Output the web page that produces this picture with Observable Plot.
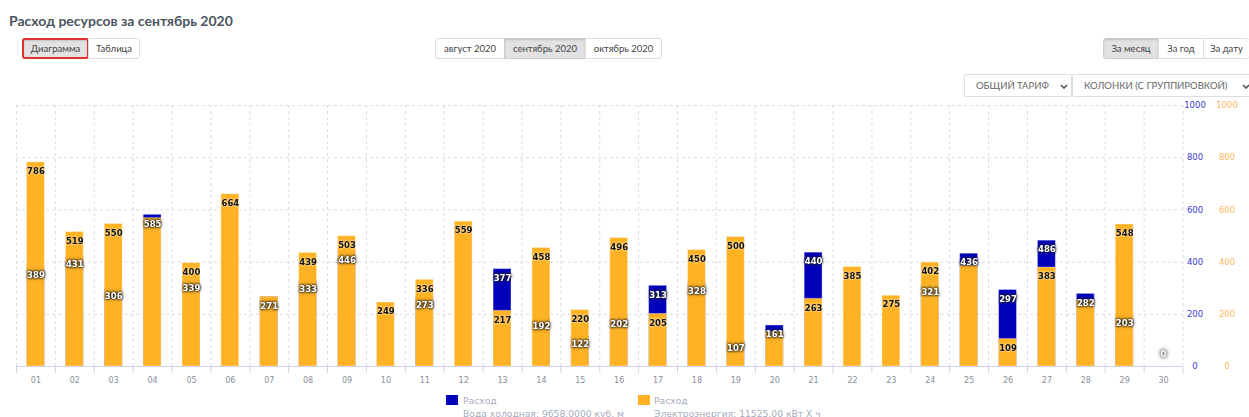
<!DOCTYPE html>
<html><head><meta charset="utf-8">
<script src="https://cdn.jsdelivr.net/npm/d3@7"></script>
<script src="https://cdn.jsdelivr.net/npm/@observablehq/plot@0.6"></script>
<style>
html,body{margin:0;padding:0;background:#fff;width:1249px;height:417px;overflow:hidden;position:relative;font-family:Lato,sans-serif;}
#chart{position:absolute;left:0;top:95px;}
h1{position:absolute;left:9px;top:12px;margin:0;font:700 14px Lato,sans-serif;color:#4a5560;}
.grp{position:absolute;display:flex;height:21px;font:9.5px Lato,sans-serif;color:#444;}
.grp div{box-sizing:border-box;height:21px;line-height:19px;text-align:center;border:1px solid #ddd;background:#fff;margin-left:-1px;}
.grp div.on{background:#e2e2e2;border-color:#ccc;box-shadow:inset 0 1px 2px rgba(0,0,0,.15);}
.grp div:first-child{border-radius:3px 0 0 3px;margin-left:0}
.grp div:last-child{border-radius:0 3px 3px 0}
.sel{position:absolute;box-sizing:border-box;top:74px;height:23px;border:1px solid #ddd;border-radius:2px;font:9.5px Lato,sans-serif;color:#666;line-height:21px;white-space:nowrap;}
.sel svg{position:absolute;top:9px;}
.leg{position:absolute;font:9.2px "DejaVu Sans",sans-serif;color:#a6aebd;white-space:nowrap;line-height:13px;}
.sw{position:absolute;width:12px;height:10px;top:395px;}
.wl text{filter:drop-shadow(0 0 1px #000) drop-shadow(0 0 1.5px #333);}
.bl text{filter:drop-shadow(0 0 1px #fff);}
.zl text{filter:drop-shadow(0 0 1.5px #555) drop-shadow(0 0 2px #777);}
</style></head><body>
<h1>Расход ресурсов за сентябрь 2020</h1>
<div class="grp" style="left:22px;top:38px"><div class="on" style="width:67px;border:2px solid #e03030;line-height:17px;border-radius:3px">Диаграмма</div><div style="width:52px">Таблица</div></div>
<div class="grp" style="left:435px;top:38px"><div style="width:70px">август 2020</div><div class="on" style="width:82px">сентябрь 2020</div><div style="width:77px">октябрь 2020</div></div>
<div class="grp" style="left:1103px;top:38px"><div class="on" style="width:56px">За месяц</div><div style="width:46px">За год</div><div style="width:46px;border-right:0">За дату</div></div>
<div class="sel" style="left:964px;width:108px;padding-left:11px">ОБЩИЙ ТАРИФ<svg style="left:95px" width="8" height="5"><path d="M1 1l3 3 3-3" fill="none" stroke="#555" stroke-width="1.6"/></svg></div>
<div class="sel" style="left:1072px;width:190px;padding-left:11px">КОЛОНКИ (С ГРУППИРОВКОЙ)<svg style="left:169px" width="8" height="5"><path d="M1 1l3 3 3-3" fill="none" stroke="#555" stroke-width="1.6"/></svg></div>
<div id="chart"></div>
<div class="sw" style="left:446px;background:#0000bb"></div>
<div class="leg" style="left:463px;top:394px">Расход<br>Вода холодная: 9658.0000 куб. м</div>
<div class="sw" style="left:638px;background:#ffb224"></div>
<div class="leg" style="left:654px;top:394px">Расход<br>Электроэнергия: 11525.00 кВт Х ч</div>
<script>
const days = d3.range(1, 31);
const edges = d3.range(0.5, 31, 1);
const yTicks = [0, 200, 400, 600, 800, 1000];
const orangeValues = [786,519,550,572,400,664,271,439,503,249,336,559,217,458,220,496,205,450,500,137,263,385,275,402,390,109,383,258,548,0];
const blueValues   = [389,431,306,585,339,0,271,333,446,0,273,0,377,192,122,202,313,328,107,161,440,0,0,321,436,297,486,282,203,0];
const blackLabels  = [786,519,550,null,400,664,null,439,503,249,336,559,217,458,220,496,205,450,500,null,263,385,275,402,null,109,383,null,548,null];
const whiteLabels  = [389,431,306,585,339,null,271,333,446,null,273,null,377,192,122,202,313,328,107,161,440,null,null,321,436,297,486,282,203,null];
const zeroLabels = [{day:30,value:0}];
const blue = "#0000bb", orange = "#ffb224";
const rows = (vals)=>days.map((day,i)=>({day,value:vals[i]})).filter(d=>d.value!=null);
const labelFont = {fontFamily:"DejaVu Sans",fontWeight:"bold",fontSize:8.5};
const bar = (vals,fill)=>Plot.rectY(rows(vals).filter(d=>d.value>0),{x1:d=>d.day-0.23,x2:d=>d.day+0.23,y:"value",fill,stroke:"#fff",strokeOpacity:0.35,strokeWidth:1,insetTop:1});
const plot = Plot.plot({
  width:1249,height:300,marginLeft:16,marginRight:66.5,marginTop:10,marginBottom:29,
  style:{background:"transparent",overflow:"visible"},
  x:{type:"linear",domain:[0.5,30.5]},
  y:{domain:[0,1000]},
  marks:[
    Plot.ruleY(yTicks.slice(1),{stroke:"#dcdcdc",strokeDasharray:"3,3"}),
    Plot.ruleX(edges,{stroke:"#dcdcdc",strokeDasharray:"3,3"}),
    Plot.axisX({ticks:edges,tickSize:7,tickFormat:()=>"",label:null,stroke:"#ccd6eb",color:"#ccd6eb",strokeOpacity:1}),
    Plot.axisX({ticks:days,tickSize:0,tickPadding:11,tickFormat:d=>String(d).padStart(2,"0"),label:null,color:"#8a8f99",fontFamily:"DejaVu Sans",fontSize:8}),
    Plot.axisY({anchor:"right",ticks:yTicks,tickSize:0,tickPadding:12,textAnchor:"middle",tickFormat:String,label:null,color:"#3b3bd0",fontFamily:"DejaVu Sans",fontSize:8.5}),
    Plot.axisY({anchor:"right",ticks:yTicks,tickSize:0,tickPadding:44,textAnchor:"middle",tickFormat:String,label:null,color:"#ffb75e",fontFamily:"DejaVu Sans",fontSize:8.5}),
    bar(blueValues,blue),
    bar(orangeValues,orange),
    Plot.ruleY([0],{stroke:"#ccd6eb"}),
    Plot.text(rows(blackLabels),{x:"day",y:"value",text:"value",dy:10,fill:"#111",className:"bl",...labelFont}),
    Plot.text(rows(whiteLabels),{x:"day",y:"value",text:"value",dy:10,fill:"#fff",className:"wl",...labelFont}),
    Plot.text(zeroLabels,{x:"day",y:"value",text:"value",dy:-12,fill:"#fff",className:"zl",...labelFont})
  ]
});
document.getElementById("chart").append(plot);
</script>
</body></html>
